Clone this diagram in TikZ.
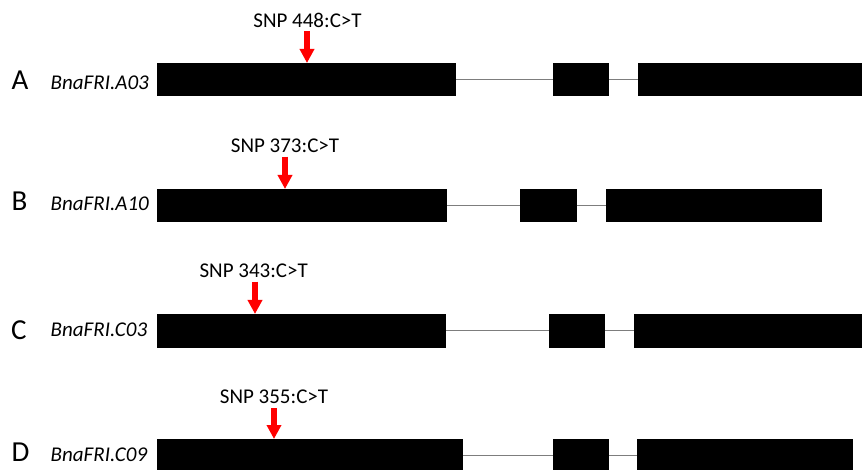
\documentclass[tikz,border=0pt]{standalone}
\usepackage{fontspec}
\setmainfont{Carlito}
\usetikzlibrary{arrows.meta}
\definecolor{snpred}{RGB}{255,0,0}
\definecolor{introngray}{RGB}{125,125,125}
\tikzset{
  exon/.style={fill=black, draw=none, inner sep=0pt, outer sep=0pt, minimum height=33.5pt, anchor=north west},
  intron/.style={draw=introngray, line width=0.9pt},
  snptext/.style={inner sep=0pt, anchor=base, font=\fontsize{21}{25}\selectfont},
  snparrow/.style={draw=snpred, line width=5.5pt, -{Triangle[width=14pt,length=14pt]}},
  rowletter/.style={inner sep=0pt, anchor=base west, font=\fontsize{29}{33}\selectfont},
  genelabel/.style={inner sep=0pt, anchor=base west, font=\fontsize{21}{25}\selectfont\itshape}
}
\begin{document}
\begin{tikzpicture}[x=1pt, y=-1pt]
\useasboundingbox (0,0) rectangle (862,470);
\clip (0,0) rectangle (862,470);

% Row A
\node[rowletter] (lA) at (11.5,89.5) {A};
\node[genelabel] (gA) at (50.5,89.5) {BnaFRI.A03};
\node[exon, minimum width=299pt] (eA1) at (157,63) {};
\node[exon, minimum width=56pt] (eA2) at (553,63) {};
\node[exon, minimum width=240pt] (eA3) at (638,63) {};
\draw[intron] (eA1.east) -- (eA2.west);
\draw[intron] (eA2.east) -- (eA3.west);
\node[snptext] (sA) at (307.5,27.5) {SNP 448:C>T};
\coordinate (aA0) at (307,31);
\coordinate (aA1) at (307,63);
\draw[snparrow] (aA0) -- (aA1);

% Row B
\node[rowletter] (lB) at (11.5,210.5) {B};
\node[genelabel] (gB) at (50.5,211) {BnaFRI.A10};
\node[exon, minimum width=290pt] (eB1) at (157,189) {};
\node[exon, minimum width=57pt] (eB2) at (519.5,189) {};
\node[exon, minimum width=216pt] (eB3) at (606,189) {};
\draw[intron] (eB1.east) -- (eB2.west);
\draw[intron] (eB2.east) -- (eB3.west);
\node[snptext] (sB) at (285,153) {SNP 373:C>T};
\coordinate (aB0) at (285,156.7);
\coordinate (aB1) at (285,189);
\draw[snparrow] (aB0) -- (aB1);

% Row C
\node[rowletter] (lC) at (11,339.5) {C};
\node[genelabel] (gC) at (50.5,336.5) {BnaFRI.C03};
\node[exon, minimum width=289pt] (eC1) at (157,314) {};
\node[exon, minimum width=55.5pt] (eC2) at (549,314) {};
\node[exon, minimum width=240pt] (eC3) at (633.5,314) {};
\draw[intron] (eC1.east) -- (eC2.west);
\draw[intron] (eC2.east) -- (eC3.west);
\node[snptext] (sC) at (253.7,278) {SNP 343:C>T};
\coordinate (aC0) at (255,281.7);
\coordinate (aC1) at (255,314);
\draw[snparrow] (aC0) -- (aC1);

% Row D
\node[rowletter] (lD) at (11.5,461) {D};
\node[genelabel] (gD) at (50.5,461.5) {BnaFRI.C09};
\node[exon, minimum width=306pt] (eD1) at (157,439) {};
\node[exon, minimum width=56pt] (eD2) at (553,439) {};
\node[exon, minimum width=216pt] (eD3) at (637,439) {};
\draw[intron] (eD1.east) -- (eD2.west);
\draw[intron] (eD2.east) -- (eD3.west);
\node[snptext] (sD) at (274,403.5) {SNP 355:C>T};
\coordinate (aD0) at (274,408);
\coordinate (aD1) at (274,439);
\draw[snparrow] (aD0) -- (aD1);
\end{tikzpicture}
\end{document}
